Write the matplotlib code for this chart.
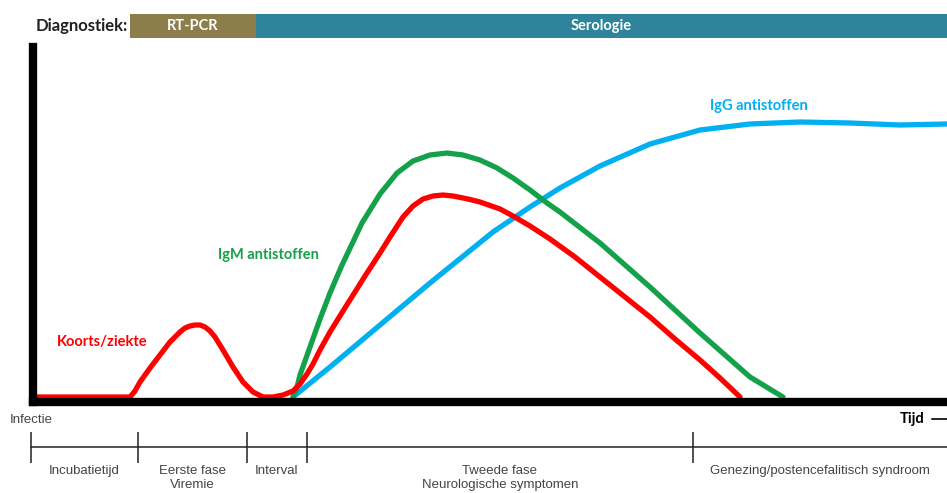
import numpy as np
import matplotlib.pyplot as plt

# curves, x = time (arbitrary units), y = level (arbitrary units)
koorts_x = [2, 97, 102, 107, 117, 127, 137, 147, 152, 157, 162, 167, 172, 177, 182, 190, 200, 210,
            220, 230, 240, 250, 260, 267, 274, 280, 287, 297, 310, 322, 332, 347, 357, 370, 380, 390,
            400, 410, 420, 435, 447, 467, 480, 497, 517, 542, 567, 592, 617, 642, 667, 687, 707]
koorts_y = [0, 0, 6, 15, 29, 42, 55, 65, 69, 71, 72, 72, 70, 66, 60, 47, 30, 15,
            5, 0, 0, 2, 6, 13, 23, 33, 47, 65, 86, 105, 121, 144, 160, 180, 191, 198,
            201, 202, 201, 198, 195, 188, 181, 171, 158, 140, 120, 100, 80, 58, 37, 19, 0]

igm_x = [260, 264, 267, 277, 287, 297, 309, 329, 347, 364, 380, 397, 414, 430, 447, 464, 480, 497,
         514, 527, 567, 617, 667, 717, 740, 750]
igm_y = [0, 10, 22, 50, 78, 104, 132, 174, 203, 224, 236, 242, 244, 242, 237, 229, 219, 207,
         194, 185, 154, 110, 64, 20, 6, 0]

igg_x = [260, 297, 347, 397, 460, 497, 527, 567, 617, 667, 717, 767, 817, 867, 914]
igg_y = [0, 30, 72, 114, 165, 190, 209, 231, 253, 267, 273, 275, 274, 272, 273]

# diagnostics bands
diag_labels = ['RT-PCR', 'Serologie']
diag_start = [97, 223]
diag_end = [223, 914]
diag_colors = ['#8C7D4B', '#2E849B']

# phases on the time line
phase_bounds = [-2, 105, 214, 274, 660]
phase_labels = ['Incubatietijd', 'Eerste fase\nViremie', 'Interval',
                'Tweede fase\nNeurologische symptomen', 'Genezing/postencefalitisch syndroom']

fig = plt.figure(figsize=(9.47, 4.93), dpi=100)
W, H = 947.0, 493.0

# main plot
ax = fig.add_axes([33 / W, (H - 402) / H, (W - 33) / W, (402 - 47) / H])
ax.set_xlim(0, 914)
ax.set_ylim(-5, 350)
for s in ['top', 'right']:
    ax.spines[s].set_visible(False)
for s in ['left', 'bottom']:
    ax.spines[s].set_linewidth(6)
    ax.spines[s].set_color('black')
ax.set_xticks([])
ax.set_yticks([])

kw = dict(lw=3.8, solid_capstyle='round', solid_joinstyle='round')
ax.plot(igg_x, igg_y, color='#00B0F0', **kw)
ax.plot(igm_x, igm_y, color='#13A14A', **kw)
ax.plot(koorts_x, koorts_y, color='#FF0000', **kw)

bold = dict(family='Lato', fontweight='bold', fontsize=10.5)
ax.text(24, 55, 'Koorts/ziekte', color='#FF0000', ha='left', va='center', **bold)
ax.text(185, 142, 'IgM antistoffen', color='#13A14A', ha='left', va='center', **bold)
ax.text(677, 291, 'IgG antistoffen', color='#00B0F0', ha='left', va='center', **bold)

# diagnostics bar
axd = fig.add_axes([33 / W, (H - 38) / H, (W - 33) / W, 24 / H], sharex=ax)
axd.axis('off')
axd.set_ylim(0, 1)
for lab, a, b, c in zip(diag_labels, diag_start, diag_end, diag_colors):
    axd.barh(0.5, b - a, left=a, height=1, color=c, edgecolor='none')
    axd.text((a + b) / 2, 0.5, lab, color='white', ha='center', va='center', **bold)
axd.text(95, 0.5, 'Diagnostiek:', color='#222222', ha='right', va='center',
         family='Lato', fontweight='bold', fontsize=12)

# time line
axt = fig.add_axes([33 / W, 0, (W - 33) / W, (H - 405) / H], sharex=ax)
axt.axis('off')
axt.set_ylim(88, 0)
axt.plot([phase_bounds[0], 914], [42, 42], color='#222222', lw=1.1, clip_on=False)
axt.vlines(phase_bounds, 27, 58, color='#222222', lw=1.1, clip_on=False)
ends = phase_bounds[1:] + [914]
small = dict(family='Liberation Sans', fontsize=9.5, color='#444444')
for a, b, lab in zip(phase_bounds, ends, phase_labels):
    axt.text((a + b) / 2, 60, lab, ha='center', va='top', linespacing=1.2, **small)
axt.text(phase_bounds[0], 15, 'Infectie', ha='center', va='center', clip_on=False, **small)
axt.text(892, 14, 'Tijd', ha='right', va='center', color='black', family='Lato',
         fontweight='bold', fontsize=10.5)
axt.annotate('', xy=(925, 14), xytext=(896, 14),
             arrowprops=dict(arrowstyle='-|>', color='black', lw=1.2), annotation_clip=False)

fig.savefig('out.png', dpi=100)
